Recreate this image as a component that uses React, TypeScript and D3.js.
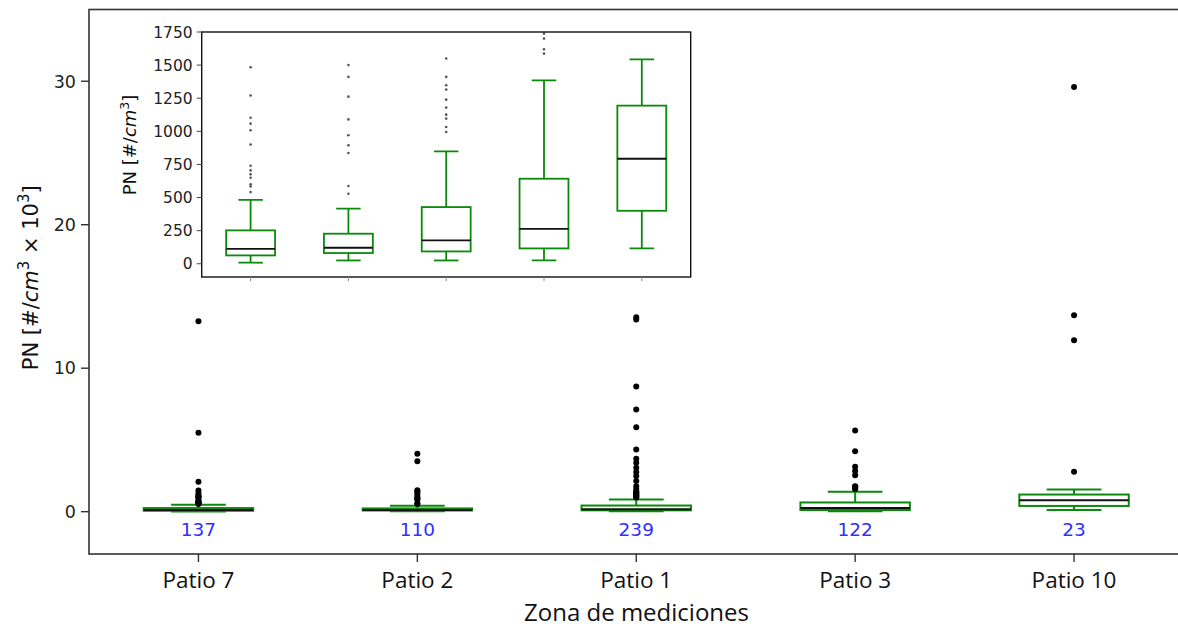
import React from "react";
import * as d3 from "d3";

// zones, in plotting order
const zones = ["Patio 7", "Patio 2", "Patio 1", "Patio 3", "Patio 10"];
const counts = [137, 110, 239, 122, 23];

// box statistics in #/cm3
const whiskerLow = [8, 25, 25, 25, 116];
const q1 = [63, 81, 93, 116, 400];
const median = [113, 121, 176, 264, 793];
const q3 = [252, 227, 428, 642, 1194];
const whiskerHigh = [483, 416, 849, 1385, 1544];

const outliers = [
  [541, 584, 600, 650, 675, 705, 740, 900, 1008, 1058, 1103, 1270, 1484, 2090, 5500, 13270],
  [529, 587, 836, 894, 970, 1090, 1262, 1411, 1500, 3520, 4040],
  [995, 1033, 1096, 1126, 1179, 1239, 1315, 1348, 1411, 1550, 1780, 2130, 2480, 2760, 3060, 3410, 3690, 4340, 5890, 7120, 8730, 13400, 13550],
  [1587, 1620, 1700, 1738, 1780, 2530, 2830, 3130, 4220, 5660],
  [2790, 11950, 13690, 29600],
];

const mainTicks = [0, 10, 20, 30];
const insetTicks = [0, 250, 500, 750, 1000, 1250, 1500, 1750];

const W = 1178;
const H = 629;
const GREEN = "#0a8a0a";
const DJ = "DejaVu Sans";

const App = () => {
  const main = { left: 89, right: 1183.5, top: 9.5, bottom: 554 };
  const inset = { left: 201.7, right: 690.7, top: 32, bottom: 277 };

  const xMain = d3.scaleLinear().domain([0.5, 5.5]).range([main.left, main.right]);
  const yMain = d3.scaleLinear().domain([-2.95, 35]).range([main.bottom, main.top]);
  const xIn = d3.scaleLinear().domain([0.5, 5.5]).range([inset.left, inset.right]);
  const yIn = d3.scaleLinear().domain([-100, 1750]).range([inset.bottom, inset.top]);

  const boxes = (xs, ys, div, lw, dotR, dotFill, key) =>
    zones.map((z, i) => {
      const c = xs(i + 1);
      const bw = xs(1.25) - xs(1);
      const cw = bw / 2;
      const v = (val) => ys(val / div);
      return (
        <g key={key + z}>
          <line x1={c} x2={c} y1={v(q3[i])} y2={v(whiskerHigh[i])} stroke={GREEN} strokeWidth={lw} />
          <line x1={c} x2={c} y1={v(q1[i])} y2={v(whiskerLow[i])} stroke={GREEN} strokeWidth={lw} />
          <line x1={c - cw} x2={c + cw} y1={v(whiskerHigh[i])} y2={v(whiskerHigh[i])} stroke={GREEN} strokeWidth={lw} />
          <line x1={c - cw} x2={c + cw} y1={v(whiskerLow[i])} y2={v(whiskerLow[i])} stroke={GREEN} strokeWidth={lw} />
          <rect x={c - bw} y={v(q3[i])} width={bw * 2} height={Math.max(v(q1[i]) - v(q3[i]), 0.5)} fill="none" stroke={GREEN} strokeWidth={lw} />
          <line x1={c - bw} x2={c + bw} y1={v(median[i])} y2={v(median[i])} stroke="#111" strokeWidth={lw} />
          {outliers[i].map((o, j) => (
            <circle key={j} cx={c} cy={v(o)} r={dotR} fill={dotFill} />
          ))}
        </g>
      );
    });

  return (
    <svg width={W} height={H} style={{ position: "absolute", left: 0, top: 0, background: "#fff" }}>
      <defs>
        <clipPath id="mainClip">
          <rect x={main.left} y={main.top} width={main.right - main.left} height={main.bottom - main.top} />
        </clipPath>
        <clipPath id="insetClip">
          <rect x={inset.left} y={inset.top} width={inset.right - inset.left} height={inset.bottom - inset.top} />
        </clipPath>
      </defs>

      {/* main axes */}
      <g clipPath="url(#mainClip)">{boxes(xMain, yMain, 1000, 2, 3, "#000", "m")}</g>
      {zones.map((z, i) => (
        <text key={z} x={xMain(i + 1)} y={536} textAnchor="middle" fontFamily={DJ} fontSize={18.5} fill="#3030ff">
          {counts[i]}
        </text>
      ))}
      <rect x={main.left} y={main.top} width={main.right - main.left} height={main.bottom - main.top} fill="none" stroke="#333" strokeWidth={1.6} />
      {mainTicks.map((t) => (
        <g key={t}>
          <line x1={main.left - 8} x2={main.left} y1={yMain(t)} y2={yMain(t)} stroke="#333" strokeWidth={1.4} />
          <text x={main.left - 13} y={yMain(t)} dy="0.36em" textAnchor="end" fontFamily={DJ} fontSize={17.5} fill="#222">
            {t}
          </text>
        </g>
      ))}
      {zones.map((z, i) => (
        <g key={z}>
          <line x1={xMain(i + 1)} x2={xMain(i + 1)} y1={main.bottom} y2={main.bottom + 8} stroke="#333" strokeWidth={1.4} />
          <text x={xMain(i + 1)} y={588} textAnchor="middle" fontFamily="Open Sans" fontSize={22.5} fill="#111">
            {z}
          </text>
        </g>
      ))}
      <text x={(main.left + 1178) / 2 + 3} y={620.5} textAnchor="middle" fontFamily="Open Sans" fontSize={24} fill="#111">
        Zona de mediciones
      </text>
      <text transform={`translate(38, ${(main.top + main.bottom) / 2 - 4}) rotate(-90)`} textAnchor="middle" fontFamily={DJ} fontSize={21} fill="#111">
        PN [#/<tspan fontStyle="italic">cm</tspan>
        <tspan dy={-9} fontSize={15}>3</tspan>
        <tspan dy={9}>{"   × 10"}</tspan>
        <tspan dy={-9} fontSize={15}>3</tspan>
        <tspan dy={9}>]</tspan>
      </text>

      {/* inset axes */}
      <rect x={inset.left} y={inset.top} width={inset.right - inset.left} height={inset.bottom - inset.top} fill="#fff" />
      <g clipPath="url(#insetClip)">{boxes(xIn, yIn, 1, 1.8, 1.3, "#555", "i")}</g>
      <rect x={inset.left} y={inset.top} width={inset.right - inset.left} height={inset.bottom - inset.top} fill="none" stroke="#111" strokeWidth={1.4} />
      {insetTicks.map((t) => (
        <g key={t}>
          <line x1={inset.left - 5} x2={inset.left} y1={yIn(t)} y2={yIn(t)} stroke="#444" strokeWidth={1} />
          <text x={inset.left - 9} y={yIn(t)} dy="0.36em" textAnchor="end" fontFamily={DJ} fontSize={15.5} fill="#222">
            {t}
          </text>
        </g>
      ))}
      {zones.map((z, i) => (
        <line key={z} x1={xIn(i + 1)} x2={xIn(i + 1)} y1={inset.bottom} y2={inset.bottom + 4} stroke="#888" strokeWidth={1} />
      ))}
      <text transform={`translate(136, 145) rotate(-90)`} textAnchor="middle" fontFamily={DJ} fontSize={18} fill="#111">
        PN [#/<tspan fontStyle="italic">cm</tspan>
        <tspan dy={-7} fontSize={12.5}>3</tspan>
        <tspan dy={7}>]</tspan>
      </text>
    </svg>
  );
};

export default App;
